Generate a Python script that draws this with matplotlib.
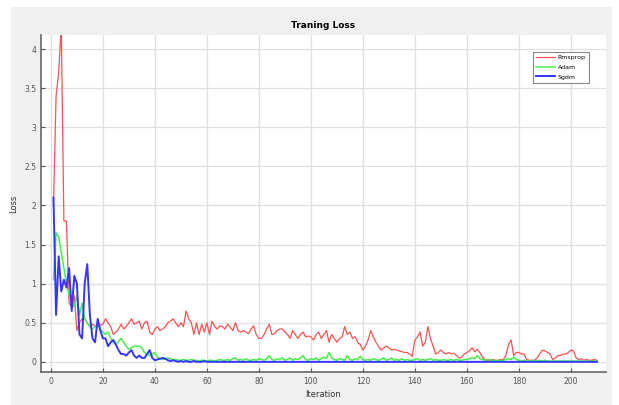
import numpy as np
import matplotlib.pyplot as plt
from matplotlib.patches import Rectangle

# loss per iteration (1..210)
rmsprop = [
    2.0, 3.4, 3.7, 4.3, 1.8, 1.8, 0.75, 0.7, 0.85, 0.4,
    0.5, 0.55, 0.55, 0.5, 0.45, 0.48, 0.46, 0.48, 0.47, 0.48,
    0.55, 0.5, 0.45, 0.35, 0.38, 0.42, 0.48, 0.42, 0.45, 0.5,
    0.55, 0.48, 0.5, 0.52, 0.42, 0.5, 0.52, 0.38, 0.35, 0.42,
    0.45, 0.4, 0.42, 0.45, 0.5, 0.52, 0.55, 0.5, 0.45, 0.5,
    0.45, 0.65, 0.55, 0.5, 0.35, 0.5, 0.35, 0.48, 0.38, 0.5,
    0.35, 0.52, 0.45, 0.42, 0.46, 0.45, 0.42, 0.48, 0.44, 0.4,
    0.5, 0.4, 0.38, 0.4, 0.38, 0.36, 0.42, 0.46, 0.35, 0.3,
    0.3, 0.35, 0.42, 0.48, 0.35, 0.36, 0.4, 0.42, 0.42, 0.38,
    0.35, 0.3, 0.4, 0.35, 0.3, 0.35, 0.38, 0.32, 0.33, 0.32,
    0.28, 0.35, 0.38, 0.3, 0.35, 0.4, 0.25, 0.35, 0.3, 0.25,
    0.3, 0.32, 0.45, 0.35, 0.38, 0.3, 0.32, 0.25, 0.22, 0.15,
    0.2, 0.28, 0.4, 0.32, 0.25, 0.2, 0.15, 0.18, 0.2, 0.18,
    0.15, 0.16, 0.15, 0.14, 0.13, 0.12, 0.12, 0.1, 0.07, 0.28,
    0.32, 0.38, 0.2, 0.25, 0.45, 0.3, 0.2, 0.1, 0.12, 0.15,
    0.12, 0.1, 0.12, 0.1, 0.11, 0.08, 0.05, 0.06, 0.1, 0.12,
    0.14, 0.18, 0.13, 0.16, 0.12, 0.06, 0.03, 0.02, 0.02, 0.03,
    0.02, 0.02, 0.03, 0.03, 0.08, 0.22, 0.28, 0.08, 0.12, 0.12,
    0.1, 0.1, 0.03, 0.02, 0.02, 0.02, 0.05, 0.1, 0.15, 0.14,
    0.12, 0.1, 0.03, 0.05, 0.08, 0.08, 0.1, 0.1, 0.12, 0.15,
    0.14, 0.05, 0.03, 0.04, 0.02, 0.03, 0.02, 0.02, 0.03, 0.02,
]

adam = [
    1.05, 1.65, 1.6, 1.4, 1.2, 1.0, 0.85, 0.8, 0.7, 0.85,
    0.6, 0.75, 0.55, 0.5, 0.45, 0.42, 0.45, 0.48, 0.42, 0.38,
    0.35, 0.38, 0.3, 0.25, 0.22, 0.26, 0.3, 0.25, 0.2, 0.16,
    0.18, 0.2, 0.2, 0.2, 0.18, 0.12, 0.1, 0.08, 0.1, 0.12,
    0.06, 0.04, 0.03, 0.04, 0.05, 0.04, 0.03, 0.03, 0.02, 0.02,
    0.03, 0.02, 0.02, 0.03, 0.02, 0.02, 0.01, 0.02, 0.02, 0.01,
    0.02, 0.02, 0.01, 0.02, 0.03, 0.02, 0.02, 0.03, 0.02, 0.04,
    0.05, 0.02, 0.03, 0.02, 0.04, 0.02, 0.02, 0.03, 0.02, 0.04,
    0.03, 0.02, 0.04, 0.08, 0.03, 0.02, 0.04, 0.03, 0.05, 0.02,
    0.03, 0.05, 0.02, 0.04, 0.03, 0.05, 0.08, 0.03, 0.02, 0.04,
    0.03, 0.05, 0.02, 0.04, 0.06, 0.04, 0.12, 0.05, 0.03, 0.02,
    0.04, 0.03, 0.02, 0.08, 0.03, 0.02, 0.04, 0.03, 0.07, 0.03,
    0.02, 0.03, 0.02, 0.04, 0.03, 0.02, 0.03, 0.05, 0.02, 0.03,
    0.05, 0.02, 0.03, 0.02, 0.04, 0.02, 0.03, 0.02, 0.02, 0.03,
    0.04, 0.02, 0.03, 0.02, 0.03, 0.04, 0.02, 0.03, 0.02, 0.02,
    0.03, 0.02, 0.02, 0.03, 0.02, 0.03, 0.02, 0.02, 0.03, 0.03,
    0.04, 0.05, 0.04, 0.08, 0.04, 0.03, 0.02, 0.03, 0.02, 0.02,
    0.02, 0.01, 0.02, 0.02, 0.03, 0.04, 0.03, 0.06, 0.03, 0.02,
    0.01, 0.02, 0.01, 0.01, 0.02, 0.01, 0.01, 0.02, 0.01, 0.02,
    0.01, 0.01, 0.01, 0.01, 0.01, 0.01, 0.01, 0.01, 0.01, 0.01,
    0.01, 0.01, 0.01, 0.01, 0.01, 0.01, 0.01, 0.01, 0.01, 0.01,
]

sgdm = [
    2.1, 0.6, 1.35, 0.9, 1.05, 0.95, 1.2, 0.65, 1.1, 1.0,
    0.35, 0.3, 1.0, 1.25, 0.6, 0.3, 0.25, 0.55, 0.4, 0.3,
    0.3, 0.2, 0.25, 0.28, 0.22, 0.15, 0.1, 0.1, 0.08, 0.12,
    0.15, 0.08, 0.05, 0.08, 0.05, 0.05, 0.1, 0.15, 0.05, 0.02,
    0.03, 0.04, 0.05, 0.04, 0.02, 0.01, 0.02, 0.01, 0.0, 0.01,
    0.0, 0.01, 0.0, 0.0, 0.01, 0.0, 0.0, 0.0, 0.01, 0.0,
    0.0, 0.0, 0.0, 0.0, 0.0, 0.0, 0.0, 0.0, 0.0, 0.0,
    0.0, 0.0, 0.0, 0.0, 0.0, 0.0, 0.0, 0.0, 0.0, 0.0,
    0.0, 0.0, 0.0, 0.0, 0.0, 0.0, 0.0, 0.0, 0.0, 0.0,
    0.0, 0.0, 0.0, 0.0, 0.0, 0.0, 0.0, 0.0, 0.0, 0.0,
    0.0, 0.0, 0.0, 0.0, 0.0, 0.0, 0.0, 0.0, 0.0, 0.0,
    0.0, 0.0, 0.0, 0.0, 0.0, 0.0, 0.0, 0.0, 0.0, 0.0,
    0.0, 0.0, 0.0, 0.0, 0.0, 0.0, 0.0, 0.0, 0.0, 0.0,
    0.0, 0.0, 0.0, 0.0, 0.0, 0.0, 0.0, 0.0, 0.0, 0.0,
    0.0, 0.0, 0.0, 0.0, 0.0, 0.0, 0.0, 0.0, 0.0, 0.0,
    0.0, 0.0, 0.0, 0.0, 0.0, 0.0, 0.0, 0.0, 0.0, 0.0,
    0.0, 0.0, 0.0, 0.0, 0.0, 0.0, 0.0, 0.0, 0.0, 0.0,
    0.0, 0.0, 0.0, 0.0, 0.0, 0.0, 0.0, 0.0, 0.0, 0.0,
    0.0, 0.0, 0.0, 0.0, 0.0, 0.0, 0.0, 0.0, 0.0, 0.0,
    0.0, 0.0, 0.0, 0.0, 0.0, 0.0, 0.0, 0.0, 0.0, 0.0,
    0.0, 0.0, 0.0, 0.0, 0.0, 0.0, 0.0, 0.0, 0.0, 0.0,
]

iterations = np.arange(1, len(rmsprop) + 1)
xticks = list(range(0, 201, 20))
yticks = [0, 0.5, 1, 1.5, 2, 2.5, 3, 3.5, 4]
ytick_labels = ['0', '0.5', '1', '1.5', '2', '2.5', '3', '3.5', '4']


def main():
    fig = plt.figure(figsize=(6.19, 4.05), dpi=100, facecolor='white')
    fig.patches.append(Rectangle((11 / 619, 0), 601 / 619, 398 / 405,
                                 transform=fig.transFigure, facecolor='#f0f0f0',
                                 edgecolor='none', zorder=-1))
    ax = fig.add_axes([41 / 619, 33 / 405, 565 / 619, 337 / 405])
    ax.set_facecolor('white')

    ax.plot(iterations, rmsprop, color='#ff5050', lw=0.9, label='Rmsprop')
    ax.plot(iterations, adam, color='#45f045', lw=1.1, label='Adam')
    ax.plot(iterations, sgdm, color='#3535ff', lw=1.4, label='Sgdm')

    ax.set_xlim(-3.8, 213.5)
    ax.set_ylim(-0.13, 4.18)
    ax.set_xticks(xticks)
    ax.set_yticks(yticks)
    ax.set_yticklabels(ytick_labels)
    ax.tick_params(labelsize=5.5, colors='#555555', direction='in', length=3)
    ax.grid(True, color='#e0e0e0', lw=0.9)
    ax.set_axisbelow(True)
    for s in ['top', 'right']:
        ax.spines[s].set_visible(False)
    for s in ['left', 'bottom']:
        ax.spines[s].set_color('#666666')
        ax.spines[s].set_linewidth(1.2)

    ax.set_title('Traning Loss', fontsize=6.5, fontweight='bold', pad=5)
    ax.set_xlabel('Iteration', fontsize=6, labelpad=3, color='#333333')
    ax.set_ylabel('Loss', fontsize=6, labelpad=4, color='#333333')

    leg = ax.legend(loc='upper right', bbox_to_anchor=(0.975, 0.96), fontsize=4.5,
                    fancybox=False, handlelength=3.0, borderpad=0.5, labelspacing=0.7,
                    handletextpad=0.4, edgecolor='#888888', framealpha=1)
    leg.get_frame().set_linewidth(0.8)

    fig.savefig('out.png', dpi=100, facecolor=fig.get_facecolor())
    plt.close(fig)


if __name__ == '__main__':
    main()
